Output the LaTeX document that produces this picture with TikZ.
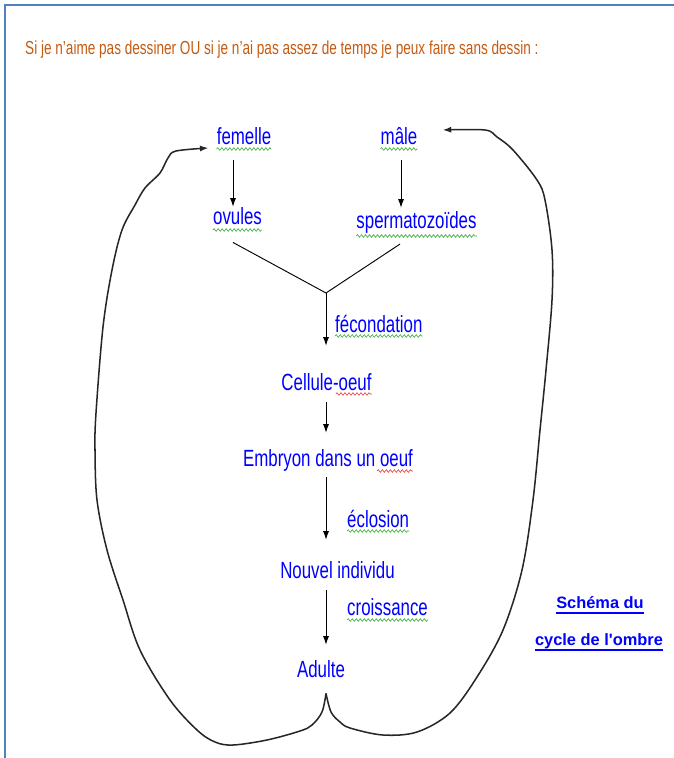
\documentclass[tikz,border=0pt]{standalone}
\usepackage{fontspec}
\setmainfont{Liberation Sans}[FakeStretch=0.72]
\newfontfamily\schemafont{Liberation Sans}
\usetikzlibrary{calc,arrows.meta,decorations.pathmorphing}
\definecolor{brun}{RGB}{197,90,17}
\definecolor{cadre}{RGB}{79,129,189}
\definecolor{vert}{RGB}{50,170,50}
\definecolor{rouge}{RGB}{230,50,50}
\newcommand{\motfont}{\fontsize{20}{24}\selectfont}

\begin{document}
\begin{tikzpicture}[x=0.3mm,y=-0.3mm,>={Latex[length=2.6mm,width=1.8mm]},
    mot/.style={anchor=base,inner sep=0pt,text=blue,font=\motfont},
    fleche/.style={->,line width=0.8pt},
    boucle/.style={->,line width=1.3pt,black!85},
    vague/.style={draw=#1,line width=0.5pt,decorate,
      decoration={snake,amplitude=0.4mm,segment length=1.2mm}}]
    \useasboundingbox (0,0) rectangle (673,758);
    \draw[cadre,line width=0.6mm] (5,770) -- (5,5) -- (680,5);
    \node[anchor=base west,inner sep=0pt,text=brun,font=\fontsize{16.1}{19}\selectfont] (titre) at (25,55)
      {Si je n'aime pas dessiner OU si je n'ai pas assez de temps je peux faire sans dessin :};
    % les mots du cycle
    \node[mot] (femelle)  at (244,145) {femelle};
    \node[mot] (male)     at (399,145) {mâle};
    \node[mot] (ovules)   at (237.5,225) {ovules};
    \node[mot] (sperme)   at (416.5,229) {spermatozoïdes};
    \node[mot,anchor=base west] (fecond) at (335,332) {fécondation};
    \node[mot] (cellule)  at (326.5,390) {Cellule-oeuf};
    \node[mot] (embryon)  at (328,466) {Embryon dans un oeuf};
    \node[mot,anchor=base west] (eclos)  at (347,527) {éclosion};
    \node[mot] (individu) at (337.5,578) {Nouvel individu};
    \node[mot,anchor=base west] (croiss) at (347,615) {croissance};
    \node[mot] (adulte)   at (321,677) {Adulte};
    \node[anchor=base,inner sep=0pt,text=blue,font=\schemafont\bfseries\fontsize{14}{17}\selectfont] (schema) at (600,608) {Schéma du};
    \node[anchor=base,inner sep=0pt,text=blue,font=\schemafont\bfseries\fontsize{14}{17}\selectfont] (ombre)  at (599,645) {cycle de l'ombre};
    \draw[blue,line width=0.45mm] ($(schema.base west)+(0,5)$) -- ($(schema.base east)+(0,5)$);
    \draw[blue,line width=0.45mm] ($(ombre.base west)+(0,5)$) -- ($(ombre.base east)+(0,5)$);
    % soulignements
    \foreach \m/\d in {femelle/4,male/4,ovules/5,sperme/7,fecond/4,eclos/4,croiss/5}
      \draw[vague=vert] ($(\m.base west)+(0,\d)$) -- ($(\m.base east)+(0,\d)$);
    \draw[vague=rouge] ($(cellule.base east)+(-36,4)$) -- ($(cellule.base east)+(0,4)$);
    \draw[vague=rouge] ($(embryon.base east)+(-36,5)$) -- ($(embryon.base east)+(0,5)$);
    % fleches
    \coordinate (meet) at (326,293);
    \draw[fleche] ($(femelle.south)+(-11,15)$) -- ($(ovules.north)+(-4.5,-1)$);
    \draw[fleche] ($(male.south)+(2,15)$) -- ($(sperme.north)+(-15.5,-4)$);
    \draw[line width=0.8pt] ($(ovules.south)+(-4.5,17)$) -- (meet) -- ($(sperme.south)+(-16.5,10)$);
    \draw[fleche] (meet) -- ($(meet |- cellule.north)+(0,-27)$);
    \draw[fleche] ($(meet |- cellule.south)+(0,12)$) -- ($(meet |- embryon.north)+(0,-16)$);
    \draw[fleche] ($(meet |- embryon.south)+(0,6)$) -- ($(meet |- individu.north)+(0,-21)$);
    \draw[fleche] ($(meet |- individu.south)+(0,12)$) -- ($(meet |- adulte.north)+(0,-15)$);
    % la boucle
    \coordinate (cusp) at ($(adulte.south)+(5,16)$);
    \coordinate (versfem) at ($(femelle.base west)+(-8,3)$);
    \coordinate (versmale) at ($(male.base east)+(25,-15)$);
    \draw[boucle] plot[smooth,tension=0.55] coordinates {(cusp) (322,712) (312,725) (300,731) (267,740)
      (233,745) (215,742) (197,730) (170,700) (140,650) (123,600) (107,550) (97,500) (95,450)
      (96,413) (103,327) (112,270) (122,230) (135,205) (145,188) (160,173) (168,158) (176,151) (versfem)};
    \draw[boucle] plot[smooth,tension=0.55] coordinates {(cusp) (331,712) (340,722) (350,728) (383,735)
      (417,732) (450,713) (477,677) (503,630) (522,570) (533,500) (540,430) (546,370) (552,300)
      (552,250) (545,200) (537,180) (513,150) (497,137) (485,130) (versmale)};
\end{tikzpicture}
\end{document}
